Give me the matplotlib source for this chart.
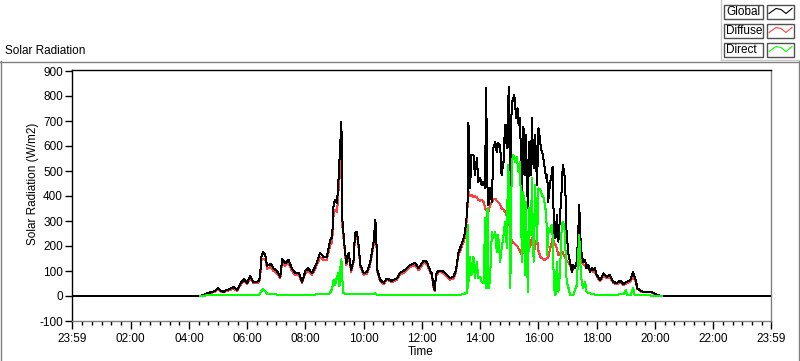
import matplotlib
matplotlib.use("Agg")
import matplotlib.pyplot as plt
from matplotlib.lines import Line2D
from matplotlib.patches import Rectangle

# ---------------- data (minutes since midnight, W/m2) ----------------
GLOBAL = [(0,0),(259,0),(263,0),(274,8),(281,13),(288,16),(294,21),(300,31),(305,21),(311,17),(318,24),(325,29),(332,35),(339,24),(346,50),(353,67),(360,53),(366,80),(373,55),(380,55),(385,64),(388,117),(389,157),(393,175),(397,165),(401,120),(408,130),(414,111),(421,100),(428,77),(432,147),(438,131),(445,145),(452,110),(459,91),(466,93),(473,57),(480,101),(486,111),(493,91),(500,117),(510,171),(517,157),(524,157),(531,224),(535,237),(538,371),(541,384),(545,371),(548,464),(552,624),(554,697),(556,304),(560,211),(564,131),(569,171),(574,104),(579,144),(582,251),(586,257),(589,211),(593,124),(600,91),(607,97),(613,131),(620,211),(624,304),(626,224),(628,104),(634,64),(641,53),(648,70),(658,60),(668,70),(675,93),(685,104),(696,124),(706,133),(713,111),(723,141),(730,137),(737,101),(740,91),(744,37),(746,24),(749,88),(754,101),(761,101),(768,91),(778,71),(785,77),(790,104),(795,171),(802,211),(807,237),(811,291),(814,380),(815,691),(817,671),(819,431),(822,564),(826,564),(829,484),(833,551),(836,457),(840,471),(843,444),(847,457),(850,431),(852,831),(855,431),(857,364),(860,431),(864,377),(867,591),(871,617),(874,577),(877,611),(881,604),(884,484),(888,537),(891,684),(895,591),(897,751),(899,837),(902,271),(904,711),(906,777),(910,804),(912,764),(914,711),(917,751),(919,684),(922,711),(926,377),(929,677),(932,484),(934,644),(938,351),(941,617),(945,484),(946,711),(950,511),(953,644),(957,444),(960,671),(962,644),(965,591),(969,564),(972,524),(976,471),(978,484),(980,377),(984,457),(987,484),(989,517),(992,257),(995,231),(998,324),(1001,217),(1004,311),(1008,431),(1010,524),(1013,497),(1015,444),(1018,244),(1022,164),(1025,137),(1029,97),(1032,124),(1035,111),(1039,137),(1042,257),(1044,364),(1046,244),(1049,164),(1052,137),(1056,144),(1059,111),(1063,124),(1066,97),(1070,111),(1073,104),(1076,111),(1080,84),(1087,64),(1094,91),(1101,77),(1107,84),(1114,57),(1121,51),(1128,61),(1135,48),(1142,57),(1149,64),(1155,95),(1160,64),(1164,31),(1171,20),(1179,15),(1186,17),(1193,16),(1200,8),(1207,3),(1214,0),(1439,0)]

DIFFUSE = [(263,0),(274,6),(281,10),(288,13),(294,18),(300,27),(305,18),(311,14),(318,20),(325,25),(332,30),(339,20),(346,44),(353,60),(360,48),(366,72),(373,50),(380,50),(385,58),(388,105),(389,140),(393,150),(397,148),(401,108),(408,118),(414,100),(421,92),(428,70),(432,135),(438,120),(445,132),(452,100),(459,84),(466,86),(473,52),(480,92),(486,102),(493,84),(500,108),(510,155),(517,145),(524,145),(531,205),(535,215),(538,330),(541,345),(545,335),(548,420),(552,520),(554,540),(556,280),(560,195),(564,122),(569,160),(574,96),(579,135),(582,235),(586,240),(589,200),(593,115),(600,85),(607,90),(613,122),(620,198),(624,285),(626,210),(628,97),(634,58),(641,48),(648,64),(658,55),(668,64),(675,86),(685,96),(696,116),(706,124),(713,103),(723,132),(730,128),(737,94),(740,84),(744,32),(746,20),(749,80),(754,94),(761,94),(768,84),(778,65),(785,70),(790,96),(795,160),(802,198),(807,222),(811,275),(814,360),(815,420),(817,410),(819,400),(822,405),(826,395),(829,400),(833,395),(836,385),(840,380),(843,385),(847,375),(850,351),(852,345),(855,337),(857,340),(860,360),(864,377),(867,385),(871,390),(874,380),(877,377),(881,365),(884,351),(888,345),(891,337),(895,320),(897,311),(899,300),(902,257),(904,230),(906,217),(910,210),(914,204),(917,198),(919,191),(922,180),(926,164),(929,185),(932,191),(934,175),(938,164),(941,190),(945,217),(946,231),(950,164),(953,200),(957,231),(960,180),(965,151),(969,150),(972,144),(976,150),(980,151),(984,191),(987,210),(989,231),(992,215),(995,204),(998,190),(1001,164),(1004,170),(1008,177),(1010,175),(1013,160),(1015,151),(1018,140),(1022,135),(1025,124),(1029,97),(1032,115),(1035,111),(1039,137),(1042,180),(1044,204),(1046,170),(1049,131),(1052,128),(1056,120),(1059,111),(1063,115),(1066,97),(1070,100),(1073,95),(1076,100),(1080,78),(1087,58),(1094,82),(1101,70),(1107,76),(1114,52),(1121,46),(1128,55),(1135,44),(1142,52),(1149,56),(1155,80),(1160,58),(1164,28),(1171,18),(1179,14),(1186,15),(1193,15),(1200,7),(1207,3),(1214,0)]

DIRECT = [(263,0),(274,2),(300,3),(330,3),(346,4),(380,5),(385,6),(388,15),(390,22),(393,28),(397,20),(401,8),(420,6),(450,5),(480,4),(500,6),(520,8),(530,10),(535,30),(538,64),(541,45),(545,77),(548,92),(550,40),(552,117),(554,147),(556,64),(558,13),(562,8),(580,6),(584,10),(590,6),(620,8),(623,12),(626,6),(680,4),(720,5),(745,2),(760,4),(800,5),(812,12),(814,284),(815,31),(819,157),(822,84),(826,157),(829,71),(833,137),(836,71),(840,77),(843,57),(847,51),(850,311),(852,31),(855,351),(857,31),(860,57),(864,257),(867,231),(871,257),(874,177),(877,244),(881,137),(884,191),(888,244),(891,297),(895,191),(897,524),(899,484),(902,31),(905,537),(908,564),(912,537),(915,557),(919,497),(922,537),(926,137),(929,417),(932,84),(934,377),(938,17),(941,351),(945,244),(946,471),(950,137),(953,444),(957,217),(960,431),(964,424),(967,404),(971,391),(974,351),(976,337),(978,164),(980,271),(984,257),(987,284),(989,244),(992,31),(995,4),(998,137),(1001,17),(1004,84),(1008,284),(1010,297),(1013,284),(1015,217),(1018,57),(1022,31),(1025,4),(1032,4),(1039,44),(1042,177),(1044,244),(1046,137),(1049,57),(1052,31),(1056,57),(1059,17),(1063,12),(1070,8),(1080,4),(1110,3),(1135,8),(1140,24),(1142,6),(1150,5),(1155,32),(1158,5),(1180,3),(1214,0)]

SERIES_NAMES = ["Global", "Diffuse", "Direct"]
SERIES_COLORS = ["#000000", "#ff4040", "#00ff00"]

X_TICK_MIN = [-1, 120, 240, 360, 480, 600, 720, 840, 960, 1080, 1200, 1320, 1439]
X_TICK_LABELS = ["23:59", "02:00", "04:00", "06:00", "08:00", "10:00", "12:00",
                 "14:00", "16:00", "18:00", "20:00", "22:00", "23:59"]
Y_TICKS = [-100, 0, 100, 200, 300, 400, 500, 600, 700, 800, 900]

TITLE = "Solar Radiation"
Y_LABEL = "Solar Radiation (W/m2)"
X_LABEL = "Time"

# ---------------- figure ----------------
plt.rcParams["font.family"] = ["Liberation Sans", "DejaVu Sans"]
W, H = 800, 361
fig = plt.figure(figsize=(W / 100, H / 100), dpi=100)
fig.patch.set_facecolor("white")


def fx(px):
    return px / W


def fy(py):
    return 1 - py / H


ax = fig.add_axes([fx(72), fy(321), 699 / W, 251 / H])
ax.set_xlim(-1, 1439)
ax.set_ylim(-100, 904)

data = [GLOBAL, DIFFUSE, DIRECT]
zorders = [3, 2, 4]
for series, name, color, z in zip(data, SERIES_NAMES, SERIES_COLORS, zorders):
    t = [p[0] for p in series]
    v = [p[1] for p in series]
    ax.plot(t, v, color=color, lw=0.72, zorder=z, label=name, antialiased=False)

ax.spines["left"].set_color("black")
ax.spines["top"].set_color("black")
ax.spines["right"].set_color("#808080")
ax.spines["bottom"].set_color("#808080")
for s in ax.spines.values():
    s.set_linewidth(1.0)

ax.set_xticks(X_TICK_MIN)
ax.set_xticklabels(X_TICK_LABELS)
ax.set_xticks([m for m in range(20, 1439, 20) if m % 120 != 0], minor=True)
ax.set_yticks(Y_TICKS)
ax.set_yticklabels([str(v) for v in Y_TICKS])
ax.tick_params(axis="x", which="major", direction="out", length=6, width=1,
               pad=3, labelsize=8.5, colors="black")
ax.tick_params(axis="x", which="minor", direction="out", length=3, width=1,
               colors="black")
ax.tick_params(axis="y", which="major", direction="out", length=5, width=1,
               pad=1.5, labelsize=8.5, colors="black")

# labels
fig.text(fx(5), fy(51), TITLE, fontsize=8.5, ha="left", va="center")
fig.text(fx(33), fy(184), Y_LABEL, fontsize=8.5, rotation=90,
         ha="center", va="center")
fig.text(fx(421), fy(352), X_LABEL, fontsize=8.5, ha="center", va="center")

# outer frame
tf = fig.transFigure
fig.add_artist(Line2D([fx(0.5), fx(0.5)], [fy(61), fy(361)], color="#808080", lw=1, transform=tf))
fig.add_artist(Line2D([fx(0), fx(799)], [fy(61.5), fy(61.5)], color="#808080", lw=1, transform=tf))
fig.add_artist(Line2D([fx(798.5), fx(798.5)], [fy(61), fy(361)], color="#808080", lw=1, transform=tf))
# legend area frame
fig.add_artist(Line2D([fx(720.5), fx(720.5)], [fy(0), fy(60)], color="#c8c8c8", lw=1, transform=tf))
fig.add_artist(Line2D([fx(720.5), fx(800)], [fy(60), fy(60)], color="#c8c8c8", lw=1, transform=tf))

# legend
row_tops = [4.5, 23.5, 42.5]
for name, color, top in zip(SERIES_NAMES, SERIES_COLORS, row_tops):
    fig.add_artist(Rectangle((fx(724), fy(top + 14)), 39 / W, 14 / H,
                             facecolor="white", edgecolor="#505050", lw=1, transform=tf))
    fig.text(fx(726), fy(top + 7.3), name, fontsize=8.5, ha="left", va="center")
    fig.add_artist(Rectangle((fx(767), fy(top + 14)), 27 / W, 14 / H,
                             facecolor="white", edgecolor="#505050", lw=1, transform=tf))
    zx = [769, 776, 781, 786, 792]
    zy = [top + 9, top + 4, top + 5, top + 9, top + 4]
    fig.add_artist(Line2D([fx(a) for a in zx], [fy(b) for b in zy], color=color,
                          lw=0.8, transform=tf))

fig.savefig("out.png", dpi=100, facecolor="white")
